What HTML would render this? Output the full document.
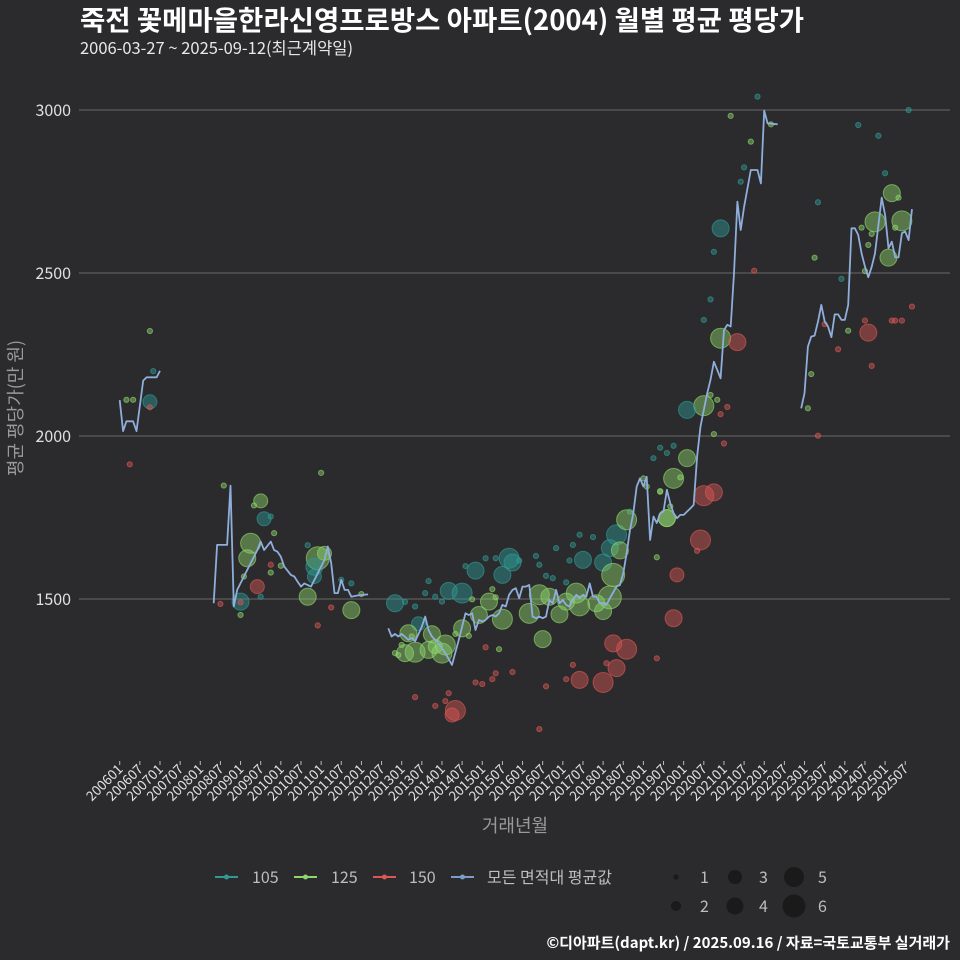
<!DOCTYPE html>
<html><head><meta charset="utf-8">
<style>
html,body{margin:0;padding:0;background:#2b2a2c;}
svg{display:block;font-family:"Noto Sans CJK KR","Liberation Sans",sans-serif;}
</style></head>
<body>
<svg id="chart" width="960" height="960" viewBox="0 0 960 960">
<rect width="960" height="960" fill="#2b2a2c"/>
<text x="80" y="30" fill="#ffffff" font-size="27.5" font-weight="bold">죽전 꽃메마을한라신영프로방스 아파트(2004) 월별 평균 평당가</text>
<text x="80" y="54" fill="#e8e8e8" font-size="16.5">2006-03-27 ~ 2025-09-12(최근계약일)</text>
<g id="grid"></g>
<g id="yaxis"></g>
<g id="xaxis"></g>
<g id="points"></g>
<g id="line"></g>
<text x="22" y="408" fill="#9a9a9a" font-size="18" transform="rotate(-90 22 408)" text-anchor="middle">평균 평당가(만 원)</text>
<text x="515" y="832" fill="#9a9a9a" font-size="18" text-anchor="middle">거래년월</text>
<g id="legend"></g>
<text x="950" y="948" fill="#ffffff" font-size="15" font-weight="bold" text-anchor="end">©디아파트(dapt.kr) / 2025.09.16 / 자료=국토교통부 실거래가</text>
</svg>
<script>
const yTicks=[1500,2000,2500,3000];
const xTickLabels=[];
for(let yr=2006;yr<=2025;yr++){xTickLabels.push(yr+"01");xTickLabels.push(yr+"07");}
const lineMonths=[0,1,2,4,5,7,8,11,12,null,
28,29,32,33,34,35,37,41,42,43,45,46,47,48,49,51,52,53,54,55,57,59,61,62,63,64,65,66,67,68,69,71,74,null,
80,81,82,83,84,86,87,88,90,91,92,93,95,97,99,101,103,104,105,106,107,108,109,110,111,112,113,114,115,116,117,118,119,120,121,122,123,124,125,126,127,128,129,130,131,132,133,134,135,136,137,138,139,140,141,142,143,144,145,146,148,149,150,151,152,153,154,155,156,157,158,159,160,161,162,163,164,165,166,167,168,169,170,171,172,173,174,175,176,177,178,179,180,181,182,183,184,185,186,187,188,190,191,192,193,196,null,
203,204,205,206,207,208,209,210,211,212,213,214,215,216,217,218,219,220,221,222,223,224,225,226,227,228,229,230,231,232,233,234,235,236];
const lineValues=[2110,2015,2045,2045,2015,2170,2180,2180,2200,null,
1487,1666,1666,1848,1477,1528,1569,1650,1676,1650,1676,1650,1645,1630,1600,1574,1569,1553,1538,1548,1538,1579,1620,1661,1610,1518,1518,1559,1528,1528,1507,1511,1514,null,
1410,1385,1393,1385,1393,1375,1380,1370,1415,1446,1405,1385,1364,1334,1298,1375,1456,1451,1456,1405,1436,1431,1436,1446,1451,1446,1456,1482,1477,1513,1528,1533,1502,1538,1538,1543,1446,1441,1446,1441,1446,1497,1487,1528,1487,1497,1482,1477,1497,1513,1502,1513,1507,1548,1507,1507,1487,1487,1482,1502,1538,1543,1579,1640,1712,1763,1845,1870,1845,1875,1681,1753,1733,1763,1768,1835,1794,1763,1748,1758,1758,1768,1778,1789,1937,2029,2080,2131,2172,2228,2203,2177,2325,2341,2336,2499,2719,2632,2703,2760,2816,2816,2775,2998,2959,2956,null,
2085,2131,2274,2305,2308,2351,2402,2351,2336,2303,2373,2373,2356,2356,2402,2637,2637,2617,2560,2519,2487,2519,2560,2647,2731,2678,2576,2596,2548,2548,2622,2627,2601,2696];
const ptMonth=[9,10,2,4,9,9,3,31,60,42,40,43,45,46,39,38,45,45,48,37,41,42,36,36,30,36,56,59,61,58,58,56,63,59,69,66,69,72,82,
85,92,91,88,89,98,102,94,96,103,106,109,112,116,117,119,114,124,125,130,127,129,133,135,134,137,141,138,144,146,148,152,
82,83,85,88,86,84,87,92,93,96,97,94,100,102,104,105,107,110,111,112,114,113,122,125,126,128,131,133,136,137,142,144,146,147,149,151,160,163,161,
109,88,94,97,98,100,99,106,108,111,112,117,127,125,133,135,137,144,145,148,147,151,160,165,166,
190,182,188,186,185,194,179,177,189,176,174,179,184,176,178,174,169,181,179,177,180,161,163,165,159,169,165,167,161,157,164,163,174,177,173,172,156,
235,220,226,228,208,215,230,232,225,233,221,231,224,223,229,222,207,217,206,205,236,230,231,233,222,223,210,214,224,208];
const ptValue=[2322,2199,2111,2111,2105,2088,1913,1848,1887,1801,1787,1746,1753,1702,1671,1625,1605,1581,1602,1569,1538,1507,1492,1451,1485,1490,1665,1625,1640,1599,1569,1507,1474,1419,1466,1559,1548,1515,1487,
1491,1555,1518,1477,1424,1525,1518,1507,1492,1601,1587,1625,1625,1625,1612,1618,1574,1632,1605,1656,1571,1564,1551,1666,1618,1697,1690,1620,1612,1656,1697,1768,
1334,1328,1334,1337,1395,1359,1385,1344,1392,1334,1359,1354,1393,1410,1387,1499,1451,1492,1530,1505,1438,1346,1456,1513,1377,1507,1453,1492,1518,1479,1487,1463,1505,1574,1649,1743,1628,1748,1829,
1352,1199,1172,1187,1211,1158,1144,1244,1239,1254,1272,1276,1232,1101,1254,1298,1252,1244,1303,1288,1364,1346,1318,1441,1574,
3041,2982,2903,2824,2780,2956,2637,2565,2507,2419,2356,2300,2288,2126,2111,2093,2080,2089,2067,2006,1977,1964,1948,1970,1932,1932,1870,1873,1831,1845,1784,1748,1817,1827,1681,1648,1870,
3000,2954,2921,2806,2717,2482,2745,2731,2657,2660,2639,2639,2620,2586,2547,2506,2547,2323,2190,2085,2397,2354,2354,2354,2354,2317,2343,2266,2215,2001];
const ptArea=[125,105,125,125,105,150,150,125,125,125,125,105,105,125,125,125,150,125,125,125,150,105,105,125,150,150,105,125,125,105,105,125,150,150,125,105,105,125,105,
105,105,105,105,105,105,105,105,105,105,105,105,105,105,105,105,105,105,105,105,105,105,105,105,105,105,105,105,105,105,105,105,
125,125,125,125,125,125,125,125,125,125,125,125,125,125,125,125,125,125,125,125,125,125,125,125,125,125,125,125,125,125,125,125,125,125,125,125,125,125,125,
150,150,150,150,150,150,150,150,150,150,150,150,150,150,150,150,150,150,150,150,150,150,150,150,150,
105,125,125,105,105,125,105,105,150,105,105,125,150,125,125,125,105,150,150,125,150,105,105,105,105,125,125,125,125,125,125,125,150,150,150,150,125,
105,105,105,105,105,105,125,125,125,125,125,125,125,125,125,125,125,125,125,125,150,150,150,150,150,150,150,150,150,150];
const ptCount=[1,1,1,1,3,1,1,1,1,3,1,3,1,1,5,4,1,1,1,1,3,1,4,1,1,1,1,6,3,4,3,4,1,1,4,1,1,1,4,
1,1,1,1,3,4,5,1,1,1,4,1,1,5,4,1,4,1,1,1,1,1,1,1,1,1,1,4,4,4,5,1,
1,1,4,5,4,1,1,4,4,5,5,3,1,4,1,1,4,4,1,1,5,1,5,5,4,4,4,4,5,5,4,4,6,6,4,5,1,4,1,
1,1,1,1,1,5,3,1,1,1,1,1,1,1,1,1,4,5,1,4,4,5,1,4,3,
1,1,1,1,1,1,4,1,1,1,1,5,4,1,1,5,4,1,1,1,1,1,1,1,1,4,5,1,1,1,1,4,5,4,5,1,1,
1,1,1,1,1,1,4,1,5,5,1,1,1,1,4,1,1,1,1,1,1,1,1,1,1,4,1,1,1,1];
const areaColors={105:"#2f9a94",125:"#8fd46c",150:"#d95754"};
const sizeRadius=[0,2.6,5,7,8.5,10,11.5];

const NS="http://www.w3.org/2000/svg";
function xScale(m){return 119.7+m*3.357;}
function yScale(v){return 110+(3000-v)/500*163;}
function mk(tag,attrs,parent){const e=document.createElementNS(NS,tag);for(const k in attrs)e.setAttribute(k,attrs[k]);parent.appendChild(e);return e;}

const grid=document.getElementById('grid'),yax=document.getElementById('yaxis'),xax=document.getElementById('xaxis');
yTicks.forEach(t=>{
  const y=yScale(t);
  const gl=mk('line',{x1:79,x2:950,y1:y,y2:y,stroke:'#6a6a6a','stroke-width':1},grid);
  
  
  const tl=mk('text',{x:71,y:y+6,fill:'#e0e0e0','font-size':16,'text-anchor':'end'},yax);
  tl.textContent=t;
  
  
});
xTickLabels.forEach((lab,i)=>{
  const x=xScale(i*6);
  const tk=mk('line',{x1:x,x2:x,y1:761,y2:765,stroke:'#bbbbbb','stroke-width':1},xax);
  
  
  const tl=mk('text',{x:x+4,y:770,fill:'#e0e0e0','font-size':13.5,'text-anchor':'end',transform:`rotate(-45 ${x+4} 770)`},xax);
  tl.textContent=lab;
  
  
});

const pg=document.getElementById('points');
ptMonth.forEach((m,i)=>{
  const c=areaColors[ptArea[i]];
  const p=mk('circle',{cx:xScale(m),cy:yScale(ptValue[i]),r:sizeRadius[ptCount[i]],fill:c,'fill-opacity':0.45,stroke:c,'stroke-opacity':0.65,'stroke-width':1},pg);
  
  
});

const lg=document.getElementById('line');
let d="",start=true;
lineMonths.forEach((m,i)=>{
  if(m===null){start=true;return;}
  d+=(start?"M":"L")+xScale(m).toFixed(1)+","+yScale(lineValues[i]).toFixed(1);
  start=false;
});
const path=mk('path',{d:d,fill:'none',stroke:'#8eaedb','stroke-width':1.8,'stroke-linejoin':'round'},lg);



const leg=document.getElementById('legend');
const legItems=[["105","#2f9a94",215,252],["125","#8fd46c",294,331],["150","#d95754",373,409],["모든 면적대 평균값","#7a9cc9",451,487]];
legItems.forEach(it=>{
  const x=it[2];
  const ln=mk('line',{x1:x,x2:x+23,y1:877,y2:877,stroke:it[1],'stroke-width':2},leg);
  
  
  const dot=mk('circle',{cx:x+11.5,cy:877,r:2.5,fill:it[1]},leg);
  
  
  const t=mk('text',{x:it[3],y:883,fill:'#bdbdbd','font-size':16},leg);
  t.textContent=it[0];
  
  
});
const sizeLeg=[[1,676,877],[3,735,877],[5,794,877],[2,676,906],[4,735,906],[6,794,906]];
sizeLeg.forEach(s=>{
  const c=mk('circle',{cx:s[1],cy:s[2],r:sizeRadius[s[0]],fill:'#1a1a1a'},leg);
  
  
  const t=mk('text',{x:s[1]+24,y:s[2]+6,fill:'#bdbdbd','font-size':16},leg);
  t.textContent=s[0];
  
  
});
</script>
</body></html>
